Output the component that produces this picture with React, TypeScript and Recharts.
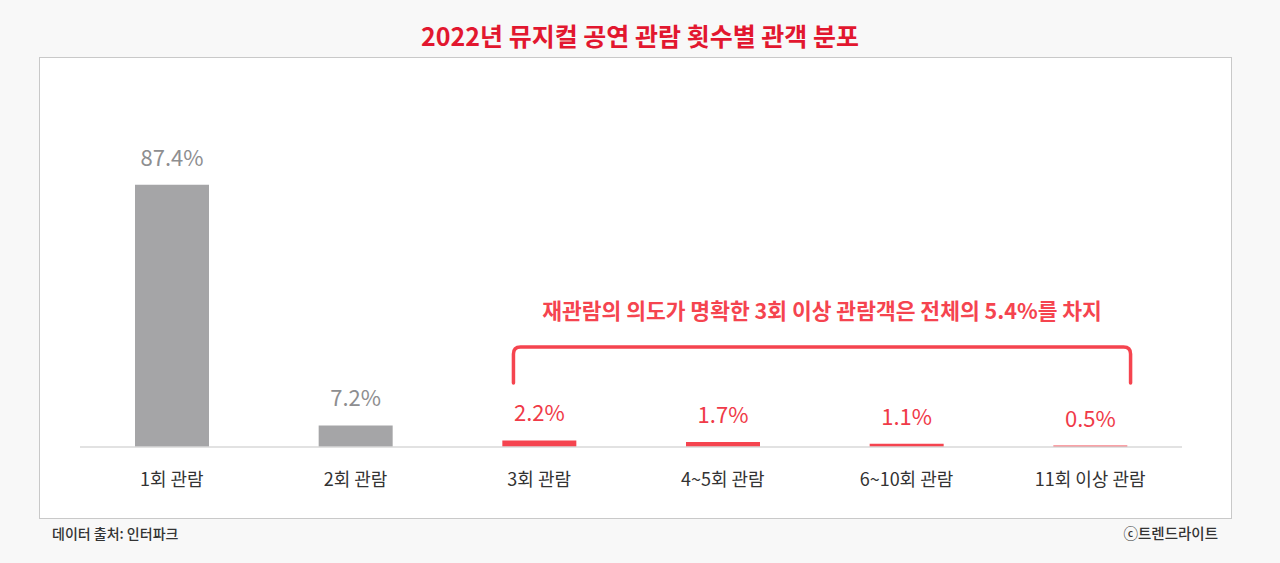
import React from 'react';
import { BarChart, Bar, XAxis, YAxis, Cell, LabelList, ReferenceArea } from 'recharts';

const categories = ['1회 관람', '2회 관람', '3회 관람', '4~5회 관람', '6~10회 관람', '11회 이상 관람'];
const shares = [87.4, 7.2, 2.2, 1.7, 1.1, 0.5];

const FONT = '"Noto Sans CJK KR", "Noto Sans", sans-serif';
const GRAY = '#a5a5a7';
const RED = '#f5444f';

const data = categories.map((name, i) => ({ name, value: shares[i] }));

const renderValue = (props: any) => {
  const { x, y, width, value, index } = props;
  return (
    <text
      x={x + width / 2}
      y={y - 19}
      textAnchor="middle"
      fill={index < 2 ? '#8e8e90' : '#f03a48'}
      fontSize={22}
      fontFamily={FONT}
    >
      {value.toFixed(1)}%
    </text>
  );
};

// bracket spanning the repeat-viewing categories, with the callout above it
const Bracket = (props: any) => {
  const { x, y, width, height } = props;
  const band = width / 4;
  const left = x + band * 0.36;
  const right = x + width - band * 0.28;
  const r = 7;
  const top = y;
  const bottom = y + height;
  const d = `M${left},${bottom} L${left},${top + r} Q${left},${top} ${left + r},${top} L${right - r},${top} Q${right},${top} ${right},${top + r} L${right},${bottom}`;
  return (
    <g>
      <path d={d} fill="none" stroke={RED} strokeWidth={3.5} strokeLinecap="round" />
      <text
        x={(left + right) / 2}
        y={top - 28}
        textAnchor="middle"
        fill={RED}
        fontSize={21.5}
        fontWeight={700}
        fontFamily={FONT}
      >
        재관람의 의도가 명확한 3회 이상 관람객은 전체의 5.4%를 차지
      </text>
    </g>
  );
};

export default function App() {
  return (
    <div style={{ position: 'absolute', left: 0, top: 0, width: 1280, height: 563, background: '#f8f8f8', fontFamily: FONT }}>
      <div style={{ position: 'absolute', left: 0, top: 17, width: 1280, textAlign: 'center', fontSize: 25, fontWeight: 700, color: '#e2172f', lineHeight: '36px' }}>
        2022년 뮤지컬 공연 관람 횟수별 관객 분포
      </div>
      <div style={{ position: 'absolute', left: 39, top: 57, width: 1191, height: 460, background: '#fff', border: '1px solid #c9c9c9' }} />
      <div style={{ position: 'absolute', left: 52, top: 523, fontSize: 14, fontWeight: 500, color: '#333', lineHeight: '20px' }}>
        데이터 출처: 인터파크
      </div>
      <div style={{ position: 'absolute', right: 62, top: 523, fontSize: 14.5, fontWeight: 500, color: '#333', lineHeight: '20px' }}>
        ⓒ트렌드라이트
      </div>
      <div style={{ position: 'absolute', left: 0, top: 0 }}>
        <BarChart width={1280} height={563} data={data} margin={{ top: 147, right: 98, bottom: 86, left: 80 }} barSize={74}>
          <XAxis
            dataKey="name"
            axisLine={{ stroke: '#d9d9d9', strokeWidth: 1.5 }}
            tickLine={false}
            tickMargin={20}
            tick={{ fill: '#333', fontSize: 18, fontFamily: FONT }}
            interval={0}
          />
          <YAxis hide domain={[0, 100]} />
          <ReferenceArea x1={categories[2]} x2={categories[5]} y1={21.3} y2={33.3} shape={<Bracket />} ifOverflow="visible" />
          <Bar dataKey="value" isAnimationActive={false}>
            {data.map((d, i) => (
              <Cell key={d.name} fill={i < 2 ? GRAY : RED} />
            ))}
            <LabelList dataKey="value" content={renderValue} />
          </Bar>
        </BarChart>
      </div>
    </div>
  );
}
